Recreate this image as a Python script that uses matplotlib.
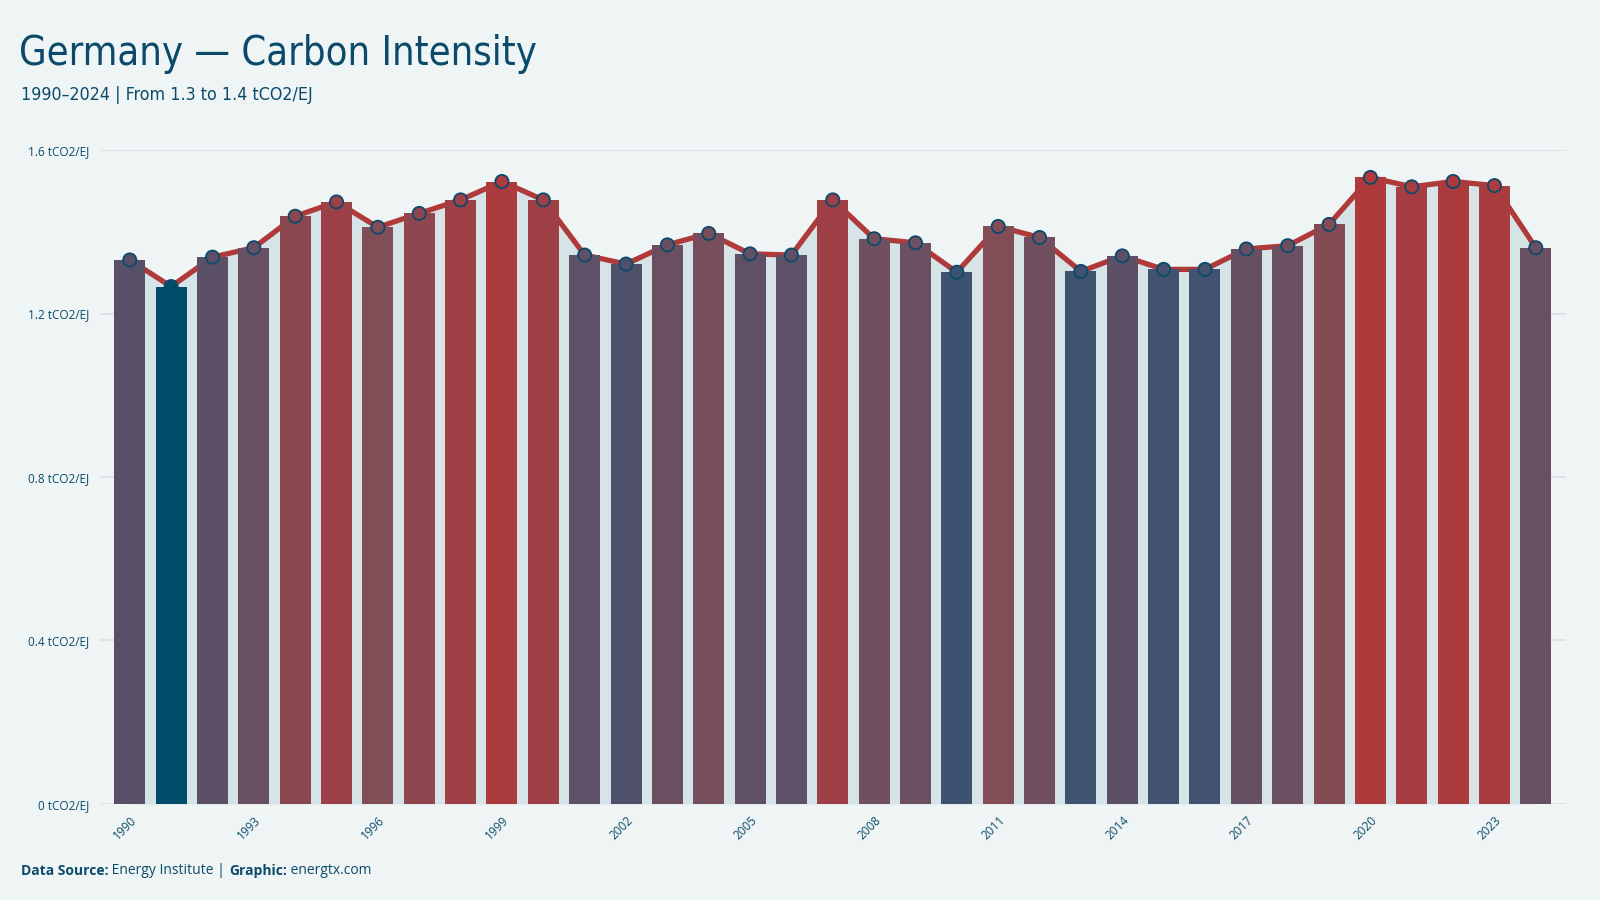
import matplotlib
matplotlib.use("Agg")
import matplotlib.pyplot as plt
import numpy as np
from matplotlib.colors import LinearSegmentedColormap, Normalize
from matplotlib import font_manager

years = list(range(1990, 2025))
intensity = [1.331, 1.266, 1.338, 1.361, 1.438, 1.473, 1.411, 1.445, 1.478, 1.523,
             1.478, 1.343, 1.321, 1.368, 1.396, 1.346, 1.343, 1.478, 1.383, 1.373,
             1.301, 1.413, 1.386, 1.303, 1.341, 1.308, 1.308, 1.358, 1.366, 1.418,
             1.533, 1.510, 1.523, 1.513, 1.361]
y_ticks = [0, 0.4, 0.8, 1.2, 1.6]
y_ticklabels = ["0 tCO2/EJ", "0.4 tCO2/EJ", "0.8 tCO2/EJ", "1.2 tCO2/EJ", "1.6 tCO2/EJ"]

bg = "#eff5f5"
navy = "#0b4a6a"
red = "#b03a3a"
fill_c = "#d6e3e7"
grid_c = "#d3e0e4"

cmap = LinearSegmentedColormap.from_list("carbon", [
    (0.0, "#024c6b"), (0.131, "#3d5270"), (0.243, "#585068"), (0.356, "#684f62"),
    (0.449, "#714f5f"), (0.543, "#814d56"), (0.644, "#8b4750"), (0.775, "#9d4148"),
    (1.0, "#ae3a3b")])
norm = Normalize(min(intensity), max(intensity))
colors = [cmap(norm(v)) for v in intensity]

# condensed face for the headings, if there is one
cond = None
for f in font_manager.fontManager.ttflist:
    fn = f.fname.lower()
    if "condensed" in fn and "bold" not in fn and "oblique" not in fn:
        cond = f.fname
        break
if cond:
    head = font_manager.FontProperties(fname=cond)
else:
    head = font_manager.FontProperties(family="DejaVu Sans")

small = ["Open Sans", "DejaVu Sans"]

fig = plt.figure(figsize=(16, 9), dpi=100, facecolor=bg)
ax = fig.add_axes([0.0625, 0.1067, 0.9165, 0.7266], facecolor=bg)

x = np.arange(len(years))
ax.fill_between(x, 0, intensity, color=fill_c, zorder=1, lw=0)
ax.plot(x, intensity, color=red, lw=3.8, zorder=2, solid_joinstyle="round")
ax.bar(x, intensity, width=0.75, color=colors, zorder=3)
ax.scatter(x, intensity, s=90, c=colors, edgecolors=navy, linewidths=1.3, zorder=4, clip_on=False)

ax.set_xlim(-0.72, len(years) - 1 + 0.74)
ax.set_ylim(0, 1.6)
ax.set_yticks(y_ticks)
ax.set_yticklabels(y_ticklabels, fontsize=8.5, color=navy, family=small)
ax.set_xticks(x[::3])
ax.set_xticklabels([str(y) for y in years[::3]], rotation=45, ha="right",
                   rotation_mode="anchor", fontsize=8.5, color=navy, family=small)
ax.tick_params(axis="both", length=0)
ax.tick_params(axis="y", pad=8)
ax.tick_params(axis="x", pad=7)
ax.grid(axis="y", color=grid_c, lw=1.1, zorder=0)
ax.set_axisbelow(True)
for s in ax.spines.values():
    s.set_visible(False)

tp = head.copy()
tp.set_size(28.5)
fig.text(0.012, 0.928, "Germany \u2014 Carbon Intensity", fontproperties=tp, color=navy,
         va="baseline")
sp = head.copy()
sp.set_size(12.8)
fig.text(0.013, 0.889, "1990\u20132024 | From 1.3 to 1.4 tCO2/EJ", fontproperties=sp,
         color=navy, va="baseline")

t = fig.text(0.013, 0.028, "Data Source:", fontsize=10, fontweight="bold", color=navy,
             family=small, va="baseline")
parts = [(" Energy Institute | ", "normal"), ("Graphic:", "bold"), (" energtx.com", "normal")]
for txt, w in parts:
    t = ax.annotate(txt, xy=(1, 0), xycoords=t, fontsize=10, fontweight=w, color=navy,
                    family=small, va="bottom", ha="left", annotation_clip=False)

fig.savefig("out.png", dpi=100, facecolor=bg)
